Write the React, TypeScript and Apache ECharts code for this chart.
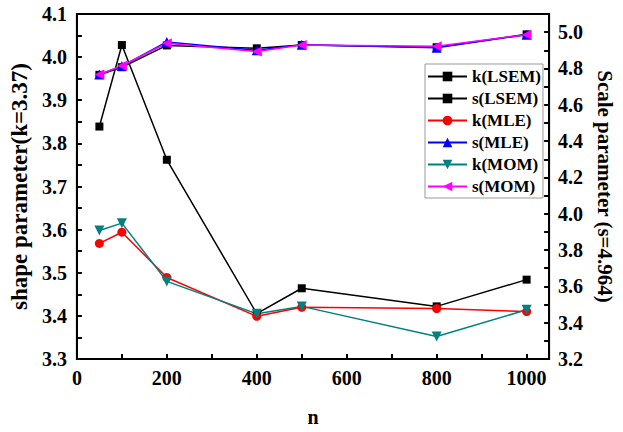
import React, { useEffect, useRef } from "react";
import * as echarts from "echarts";

const nValues = [50, 100, 200, 400, 500, 800, 1000];
const kLSEM = [3.839, 4.028, 3.762, 3.405, 3.464, 3.422, 3.484];
const sLSEM = [4.765, 4.807, 4.927, 4.911, 4.929, 4.917, 4.988];
const kMLE = [3.568, 3.594, 3.489, 3.399, 3.42, 3.417, 3.41];
const sMLE = [4.767, 4.813, 4.946, 4.9, 4.93, 4.914, 4.986];
const kMOM = [3.598, 3.615, 3.48, 3.405, 3.422, 3.352, 3.414];
const sMOM = [4.767, 4.815, 4.939, 4.893, 4.929, 4.923, 4.986];

const FONT = "'Liberation Serif', 'Times New Roman', serif";

function pairs(xs: number[], ys: number[]) {
  return xs.map((x, i) => [x, ys[i]]);
}

export default function App() {
  const ref = useRef<HTMLDivElement>(null);
  useEffect(() => {
    if (!ref.current) return;
    const chart = echarts.init(ref.current, null, { renderer: "svg" });
    const axisText = { fontFamily: FONT, fontWeight: "bold" as const, fontSize: 20, color: "#000" };
    const mk = (name: string, data: number[], color: string, symbol: string, size: number, yAxisIndex: number, rotate = 0) => ({
      name,
      type: "line",
      yAxisIndex,
      data: pairs(nValues, data),
      symbol,
      symbolSize: size,
      symbolRotate: rotate,
      lineStyle: { color, width: 1.5 },
      itemStyle: { color, borderWidth: 0 },
    });
    chart.setOption({
      animation: false,
      grid: {
        left: 75,
        right: 69,
        top: 14,
        bottom: 66,
        show: true,
        borderColor: "#000",
        borderWidth: 2,
        backgroundColor: "transparent",
      },
      legend: {
        orient: "vertical",
        left: 425,
        top: 64,
        padding: [4, 2, 3, 2],
        backgroundColor: "#fff",
        borderColor: "#999",
        borderWidth: 1,
        itemWidth: 39,
        itemHeight: 12,
        itemGap: 5,
        textStyle: { fontFamily: FONT, fontWeight: "bold", fontSize: 17, color: "#000", lineHeight: 17 },
        data: ["k(LSEM)", "s(LSEM)", "k(MLE)", "s(MLE)", "k(MOM)", "s(MOM)"],
      },
      xAxis: {
        type: "value",
        min: 0,
        max: 1050,
        interval: 100,
        name: "n",
        nameLocation: "middle",
        nameGap: 48,
        nameTextStyle: axisText,
        axisLine: { lineStyle: { color: "#000", width: 2 } },
        axisTick: { inside: true, length: 5, lineStyle: { color: "#000", width: 2 } },
        axisLabel: {
          ...axisText,
          margin: 9,
          formatter: (v: number) => (v % 200 === 0 && v <= 1000 ? String(v) : ""),
        },
        splitLine: { show: false },
      },
      yAxis: [
        {
          type: "value",
          position: "left",
          min: 3.3,
          max: 4.1,
          interval: 0.05,
          name: "shape parameter(k=3.37)",
          nameLocation: "middle",
          nameRotate: 90,
          nameGap: 42,
          nameTextStyle: { ...axisText, fontSize: 23 },
          axisLine: { show: true, lineStyle: { color: "#000", width: 2 } },
          axisTick: { show: true, inside: true, length: 5, lineStyle: { color: "#000", width: 2 } },
          axisLabel: {
            ...axisText,
            margin: 10,
            formatter: (v: number) =>
              Math.abs(v * 10 - Math.round(v * 10)) < 1e-6 ? v.toFixed(1) : "",
          },
          splitLine: { show: false },
        },
        {
          type: "value",
          position: "right",
          min: 3.2,
          max: 5.1,
          interval: 0.1,
          name: "Scale parameter (s=4.964)",
          nameLocation: "middle",
          nameRotate: -90,
          nameGap: 41,
          nameTextStyle: { ...axisText, fontSize: 21 },
          axisLine: { show: true, lineStyle: { color: "#000", width: 2 } },
          axisTick: { show: true, inside: true, length: 5, lineStyle: { color: "#000", width: 2 } },
          axisLabel: {
            ...axisText,
            margin: 9,
            formatter: (v: number) => {
              const t = Math.round(v * 10);
              return t % 2 === 0 && t <= 50 ? (t / 10).toFixed(1) : "";
            },
          },
          splitLine: { show: false },
        },
      ],
      series: [
        mk("k(LSEM)", kLSEM, "#000000", "rect", 8, 0),
        mk("s(LSEM)", sLSEM, "#000000", "rect", 8, 1),
        mk("k(MLE)", kMLE, "#ff0000", "circle", 9, 0),
        mk("s(MLE)", sMLE, "#0000ff", "triangle", 10, 1),
        mk("k(MOM)", kMOM, "#008080", "triangle", 10, 0, 180),
        mk("s(MOM)", sMOM, "#ff00ff", "triangle", 10, 1, 90),
      ],
    });
    return () => chart.dispose();
  }, []);
  return (
    <div
      ref={ref}
      style={{ position: "fixed", left: 0, top: 0, width: 623, height: 432, background: "#fff" }}
    />
  );
}
